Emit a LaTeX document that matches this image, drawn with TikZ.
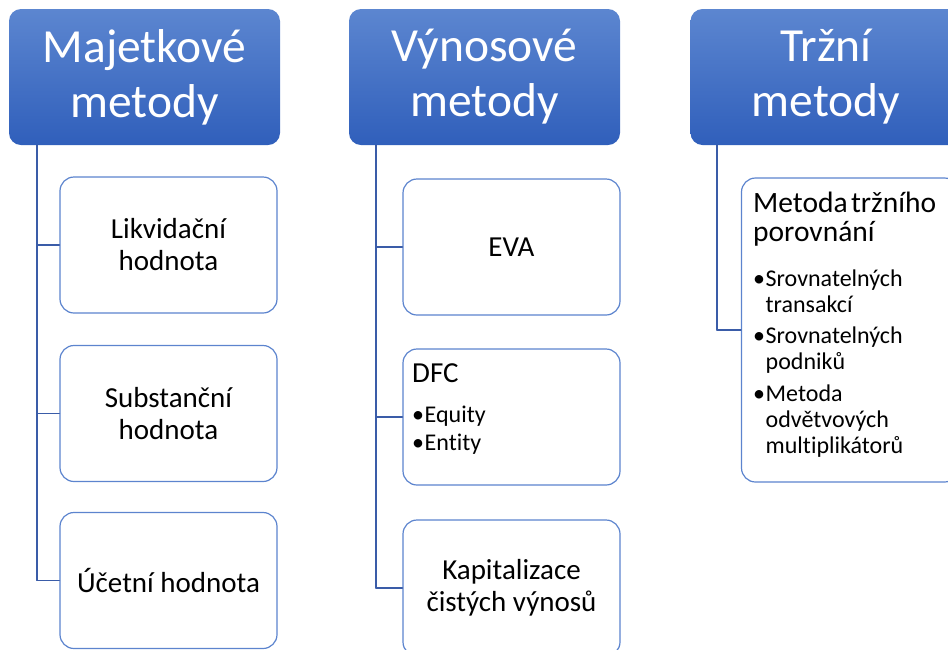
\documentclass[tikz,border=0pt]{standalone}
\usepackage{fontspec}
\setmainfont{Carlito}[Ligatures=NoCommon]
\usepackage{xcolor}
\usepackage{tikz}
\definecolor{headtop}{RGB}{92,134,208}
\definecolor{headbot}{RGB}{48,95,187}
\definecolor{boxline}{RGB}{92,132,206}
\definecolor{connline}{RGB}{58,92,168}
\tikzstyle{header} = [rounded corners=12pt,top color=headtop,bottom color=headbot,text=white,minimum width=271pt,minimum height=136pt,inner sep=0pt,align=center,font=\fontsize{47.5}{55}\selectfont]
\tikzstyle{item} = [rounded corners=14pt,draw=boxline,line width=1.2pt,fill=white,minimum width=217pt,minimum height=136pt,inner sep=0pt,align=center,font=\fontsize{29}{32}\selectfont]
\tikzstyle{lefttext} = [anchor=north west,inner sep=0pt,text width=200pt,align=left]
\tikzstyle{conn} = [draw=connline,line width=1.3pt]
\newcommand{\bul}[1]{\hangindent=12.5pt\hangafter=1\makebox[12.5pt][l]{•}#1\par}

\begin{document}
\begin{tikzpicture}[line cap=round,line join=round,x=1pt,y=-1pt]
                \useasboundingbox (0,0) rectangle (948,649);
                \clip (0,0) rectangle (948,649);
                % headers
                \node[header] (h1) at (144.5,77) {Majetkové\\metody};
                \node[header] (h2) at (484.5,77) {Výnosové\\metody};
                \node[header] (h3) at (826,77) {Tržní\\metody};
                % connectors
                \coordinate (t1) at (37,145);
                \coordinate (t2) at (376,145);
                \coordinate (t3) at (717,145);
                \draw[conn] (t1) |- (54,580.5);
                \draw[conn] (t2) |- (400,588);
                \draw[conn] (t3) |- (740,330);
                % first column
                \node[item] (m1) at (168.5,245) {Likvidační\\hodnota};
                \node[item] (m2) at (168.5,413.5) {Substanční\\hodnota};
                \node[item] (m3) at (168.5,580.5) {Účetní hodnota};
                \draw[conn] (t1 |- m1.west) -- (m1.west);
                \draw[conn] (t1 |- m2.west) -- (m2.west);
                \draw[conn] (t1 |- m3.west) -- (m3.west);
                % second column
                \node[item] (v1) at (511.5,247) {EVA};
                \node[item] (v2) at (511.5,417) {};
                \node[item] (v3) at (511.5,588) {Kapitalizace\\čistých výnosů};
                \draw[conn] (t2 |- v1.west) -- (v1.west);
                \draw[conn] (t2 |- v2.west) -- (v2.west);
                \draw[conn] (t2 |- v3.west) -- (v3.west);
                \node[lefttext] (v2t) at (412,363) {\parindent=0pt\parskip=0pt
                    \fontsize{29}{31}\selectfont DFC\par
                    \fontsize{24}{28}\selectfont\vspace{12.5pt}
                    \bul{Equity}
                    \bul{Entity}};
                % third column
                \node[item,minimum height=304pt] (t1b) at (850,330) {};
                \draw[conn] (t3 |- t1b.west) -- (t1b.west);
                \node[lefttext] (t1t) at (753,191.5) {\parindent=0pt\parskip=0pt
                    \fontsize{29.5}{29}\selectfont Metoda tržního\\porovnání\par
                    \fontsize{24}{26}\selectfont\vspace{13.5pt}\parskip=5.5pt
                    \bul{Srovnatelných\newline transakcí}
                    \bul{Srovnatelných\newline podniků}
                    \bul{Metoda\newline odvětvových\newline multiplikátorů}};
            \end{tikzpicture}
\end{document}
